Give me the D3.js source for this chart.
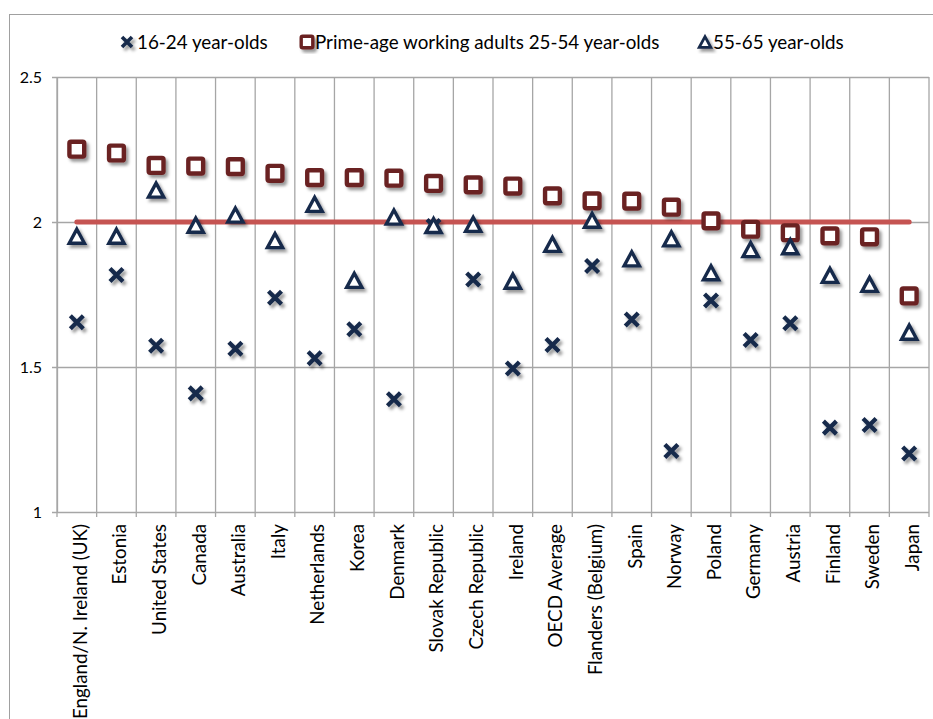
<!DOCTYPE html>
<html>
<head>
<meta charset="utf-8">
<script src="https://cdn.jsdelivr.net/npm/d3@7"></script>
<style>
  html, body { margin: 0; padding: 0; background: #fff; }
  svg { display: block; }
  text { font-family: Lato, "Open Sans", sans-serif; fill: #000; }
</style>
</head>
<body>
<svg id="chart" width="933" height="719"></svg>
<script>
const categories = ["England/N. Ireland (UK)", "Estonia", "United States", "Canada", "Australia", "Italy",
  "Netherlands", "Korea", "Denmark", "Slovak Republic", "Czech Republic", "Ireland", "OECD Average",
  "Flanders (Belgium)", "Spain", "Norway", "Poland", "Germany", "Austria", "Finland", "Sweden", "Japan"];
const young = [1.654, 1.817, 1.573, 1.409, 1.563, 1.739, 1.530, 1.630, 1.389, 1.986, 1.802, 1.495, 1.576,
  1.848, 1.664, 1.210, 1.729, 1.593, 1.651, 1.291, 1.300, 1.202];
const prime = [2.251, 2.238, 2.195, 2.193, 2.191, 2.168, 2.153, 2.153, 2.151, 2.133, 2.128, 2.124, 2.090,
  2.073, 2.072, 2.051, 2.004, 1.975, 1.963, 1.952, 1.949, 1.745];
const older = [1.949, 1.949, 2.108, 1.987, 2.022, 1.934, 2.059, 1.797, 2.015, 1.986, 1.990, 1.794, 1.921,
  2.004, 1.871, 1.940, 1.823, 1.903, 1.913, 1.814, 1.783, 1.618];
const referenceValue = 2;
const yTicks = [1, 1.5, 2, 2.5];
const seriesNames = ["16-24 year-olds", "Prime-age working adults 25-54 year-olds", "55-65 year-olds"];

const svg = d3.select("#chart");
const W = 933, H = 719;
const plot = { left: 57, right: 929, top: 77, bottom: 512 };
const gridColor = "#a6a6a6";
const navy = "#172a4b";
const maroon = "#6b2224";
const red = "#c55452";

// shadow filter
const defs = svg.append("defs");
const f = defs.append("filter").attr("id", "shadow").attr("x", "-50%").attr("y", "-50%").attr("width", "200%").attr("height", "200%");
f.append("feDropShadow").attr("dx", 2.5).attr("dy", 3).attr("stdDeviation", 1.7)
  .attr("flood-color", "#000").attr("flood-opacity", 0.4);

// outer chart border
svg.append("rect").attr("x", 9.5).attr("y", 14.5).attr("width", W + 10).attr("height", H + 10)
  .attr("fill", "none").attr("stroke", "#a0a0a0").attr("stroke-width", 1);

const x = d3.scaleBand().domain(categories).range([plot.left, plot.right]).padding(0);
const y = d3.scaleLinear().domain([1, 2.5]).range([plot.bottom, plot.top]);

// horizontal gridlines (with tick stubs) via axis
const yAxis = d3.axisLeft(y).tickValues(yTicks).tickFormat(d3.format("")).tickSize(-(plot.right - plot.left)).tickSizeOuter(0).tickPadding(10);
const gy = svg.append("g").attr("transform", `translate(${plot.left},0)`).call(yAxis);
gy.select(".domain").attr("stroke", gridColor).attr("stroke-width", 1.3);
gy.selectAll(".tick line").attr("stroke", gridColor).attr("stroke-width", 1.3).attr("x1", -5);
gy.selectAll(".tick text").attr("font-size", 16).attr("fill", "#000").attr("font-family", "Lato, sans-serif")
  .attr("x", -15);

// vertical gridlines at band boundaries
const bounds = categories.map(c => x(c)).concat([plot.right]);
svg.append("g").selectAll("line").data(bounds).join("line")
  .attr("x1", d => d).attr("x2", d => d)
  .attr("y1", plot.top).attr("y2", plot.bottom + 5)
  .attr("stroke", gridColor).attr("stroke-width", 1.3);

// x labels
const xAxis = d3.axisBottom(x).tickSize(0).tickSizeOuter(0);
const gx = svg.append("g").attr("transform", `translate(0,${plot.bottom})`).call(xAxis);
gx.select(".domain").remove();
gx.selectAll(".tick text")
  .attr("font-size", 18.8).attr("fill", "#000").attr("font-family", "Lato, sans-serif")
  .attr("text-anchor", "end")
  .attr("x", -12).attr("y", 0).attr("dy", "0.36em").attr("dx", 0)
  .attr("transform", "rotate(-90) translate(0,3)");

// reference line at 2
svg.append("line")
  .attr("x1", x(categories[0]) + x.bandwidth() / 2)
  .attr("x2", x(categories[categories.length - 1]) + x.bandwidth() / 2)
  .attr("y1", y(referenceValue)).attr("y2", y(referenceValue))
  .attr("stroke", red).attr("stroke-width", 5).attr("stroke-linecap", "round");

const cx = c => x(c) + x.bandwidth() / 2;

function drawX(g, px, py, s, w) {
  g.append("path").attr("d", `M${px - s},${py - s}L${px + s},${py + s}M${px - s},${py + s}L${px + s},${py - s}`)
    .attr("stroke", navy).attr("stroke-width", w).attr("fill", "none");
}
function drawSquare(g, px, py, s, w) {
  g.append("rect").attr("x", px - s).attr("y", py - s).attr("width", 2 * s).attr("height", 2 * s)
    .attr("fill", "#fff").attr("stroke", maroon).attr("stroke-width", w).attr("rx", 1.5);
}
function drawTri(g, px, py, s, w) {
  const h = s * 1.0;
  g.append("path").attr("d", `M${px},${py - h}L${px + s},${py + h * 0.85}L${px - s},${py + h * 0.85}Z`)
    .attr("fill", "#fff").attr("stroke", navy).attr("stroke-width", w).attr("stroke-linejoin", "miter");
}

const marks = svg.append("g").attr("filter", "url(#shadow)");
categories.forEach((c, i) => {
  const g = marks.append("g");
  drawX(g, cx(c), y(young[i]), 6.5, 4.3);
});
categories.forEach((c, i) => {
  const g = marks.append("g");
  drawSquare(g, cx(c), y(prime[i]), 7.4, 4.4);
});
categories.forEach((c, i) => {
  const g = marks.append("g");
  drawTri(g, cx(c), y(older[i]), 7.6, 3.4);
});

// legend
const leg = svg.append("g").attr("filter", "url(#shadow)");
const legItems = [
  { name: seriesNames[0], mx: 127, tx: 137, type: "x" },
  { name: seriesNames[1], mx: 307, tx: 315, type: "sq" },
  { name: seriesNames[2], mx: 705, tx: 713, type: "tri" }
];
const ly = 42;
legItems.forEach(it => {
  if (it.type === "x") drawX(leg, it.mx, ly, 5, 3.6);
  if (it.type === "sq") drawSquare(leg, it.mx, ly, 5.8, 3.4);
  if (it.type === "tri") drawTri(leg, it.mx, ly + 0.5, 5.8, 2.8);
});
svg.append("g").selectAll("text").data(legItems).join("text")
  .attr("x", d => d.tx).attr("y", ly).attr("dy", "0.35em")
  .attr("font-size", 18.8).text(d => d.name);
</script>
</body>
</html>
